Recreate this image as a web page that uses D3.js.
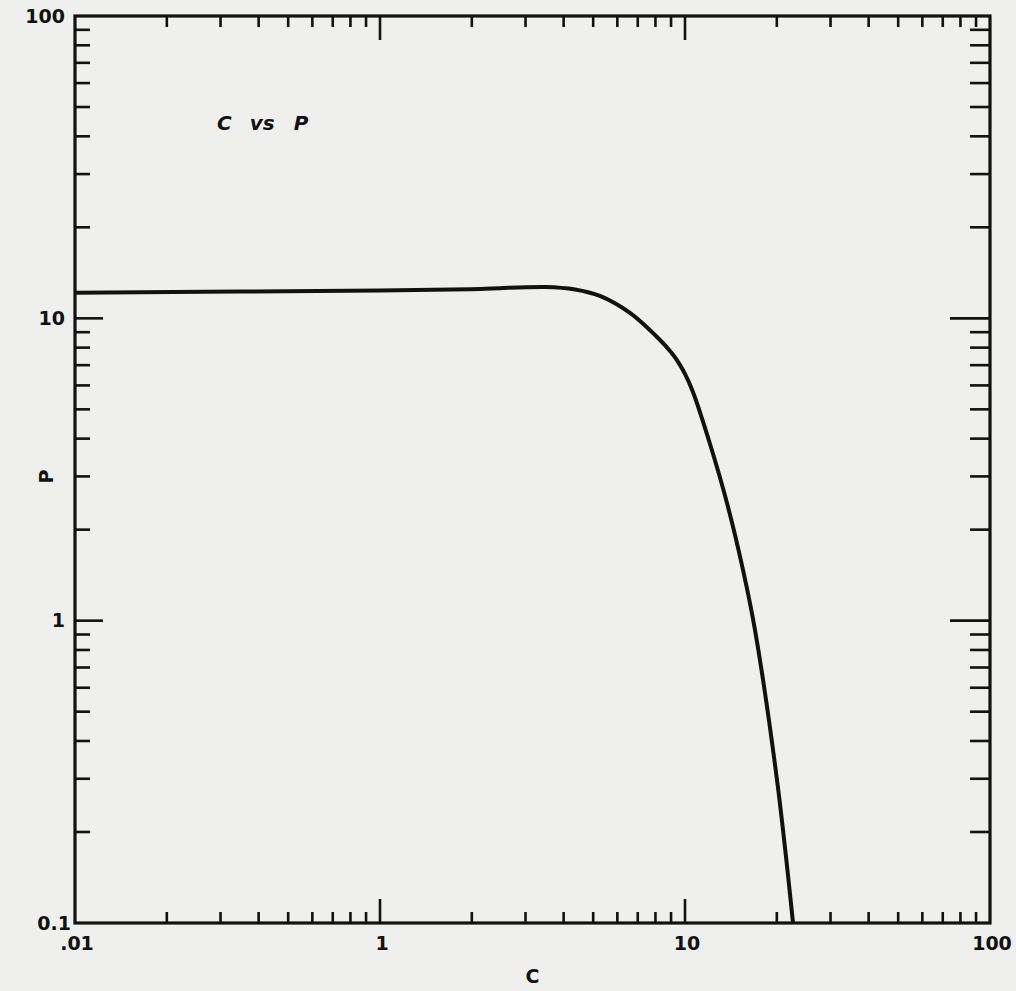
<!DOCTYPE html>
<html>
<head>
<meta charset="utf-8">
<script src="https://cdn.jsdelivr.net/npm/d3@7"></script>
<style>
  body { margin: 0; background: #efefed; }
  svg { display: block; }
  text { font-family: "DejaVu Sans", sans-serif; font-weight: bold; fill: #111; }
</style>
</head>
<body>
<div id="chart-area"></div>
<script>
// curve
const cValues = [0.1, 1, 2.13, 3.48, 4.36, 5.26, 6.6, 8.28, 8.93, 9.41, 10.0, 10.62, 12.08, 13.73, 15.5, 16.96, 20.03, 22.6]
const pValues = [12.16, 12.37, 12.51, 12.7, 12.46, 11.86, 10.42, 8.48, 7.8, 7.28, 6.55, 5.71, 3.84, 2.45, 1.47, 0.932, 0.297, 0.1]

const xTickLabels = [[0.1, '.01'], [1, '1'], [10, '10'], [100, '100']]
const yTickLabels = [[0.1, '0.1'], [1, '1'], [10, '10'], [100, '100']]

const data = cValues.map((c, i) => ({ c, p: pValues[i] }))

/* Canvas */
const margin = { top: 16, bottom: 68, left: 75, right: 26 }
const CANVAS_WIDTH = 1016
const CANVAS_HEIGHT = 991
const width = CANVAS_WIDTH - margin.left - margin.right
const height = CANVAS_HEIGHT - margin.top - margin.bottom

const $svg = d3.select('#chart-area')
  .append('svg')
  .attr('width', CANVAS_WIDTH)
  .attr('height', CANVAS_HEIGHT)

const $scene = $svg.append('g')
  .attr('transform', `translate(${margin.left}, ${margin.top})`)

/* Scales */
const xScale = d3.scaleLog().domain([0.1, 100]).range([0, width])
const yScale = d3.scaleLog().domain([0.1, 100]).range([height, 0])

// 2..9 in every decade
const minorTicks = []
;[0.1, 1, 10].forEach(d => {
  for (let k = 2; k <= 9; k++) minorTicks.push(d * k)
})
const majorTicks = [1, 10]

/* Ticks (all pointing inward) */
const $ticks = $scene.append('g')
  .attr('stroke', '#111')
  .attr('stroke-width', 2.6)

function drawTicks(values, len, side) {
  values.forEach(v => {
    if (side === 'bottom') {
      $ticks.append('line').attr('x1', xScale(v)).attr('x2', xScale(v)).attr('y1', height).attr('y2', height - len)
    } else if (side === 'top') {
      $ticks.append('line').attr('x1', xScale(v)).attr('x2', xScale(v)).attr('y1', 0).attr('y2', len)
    } else if (side === 'left') {
      $ticks.append('line').attr('y1', yScale(v)).attr('y2', yScale(v)).attr('x1', 0).attr('x2', len)
    } else {
      $ticks.append('line').attr('y1', yScale(v)).attr('y2', yScale(v)).attr('x1', width).attr('x2', width - len)
    }
  })
}
drawTicks(minorTicks, 11, 'bottom')
drawTicks(majorTicks, 24, 'bottom')
drawTicks(minorTicks, 11, 'top')
drawTicks(majorTicks, 24, 'top')
drawTicks(minorTicks, 15, 'left')
drawTicks(majorTicks, 28, 'left')
drawTicks(minorTicks, 20, 'right')
drawTicks(majorTicks, 40, 'right')

/* Frame */
$scene.append('rect')
  .attr('width', width)
  .attr('height', height)
  .attr('fill', 'none')
  .attr('stroke', '#111')
  .attr('stroke-width', 3.2)

/* Tick labels */
xTickLabels.forEach(([v, label]) => {
  $scene.append('text')
    .attr('x', xScale(v) + 2)
    .attr('y', height + 27)
    .attr('text-anchor', 'middle')
    .attr('font-size', 19)
    .text(label)
})

yTickLabels.forEach(([v, label]) => {
  $scene.append('text')
    .attr('x', v === 0.1 ? -4 : -10)
    .attr('y', yScale(v))
    .attr('dy', '0.35em')
    .attr('text-anchor', 'end')
    .attr('font-size', 19)
    .text(label)
})

/* Axis labels */
$scene.append('text')
  .attr('x', width / 2)
  .attr('y', height + 60)
  .attr('text-anchor', 'middle')
  .attr('font-size', 19)
  .text('C')

$scene.append('text')
  .attr('transform', `translate(-22, ${yScale(3)}) rotate(-90)`)
  .attr('text-anchor', 'middle')
  .attr('font-size', 19)
  .text('P')

const $title = $scene.append('text')
  .attr('x', 142)
  .attr('y', 114)
  .attr('font-size', 20)
  .attr('font-style', 'italic')
$title.append('tspan').text('C')
$title.append('tspan').attr('dx', 18).text('vs')
$title.append('tspan').attr('dx', 19).text('P')

/* Curve */
const line = d3.line()
  .x(d => xScale(d.c))
  .y(d => yScale(d.p))
  .curve(d3.curveCatmullRom.alpha(0.5))

$scene.append('path')
  .datum(data)
  .attr('d', line)
  .attr('fill', 'none')
  .attr('stroke', '#111')
  .attr('stroke-width', 4)
</script>
</body>
</html>
